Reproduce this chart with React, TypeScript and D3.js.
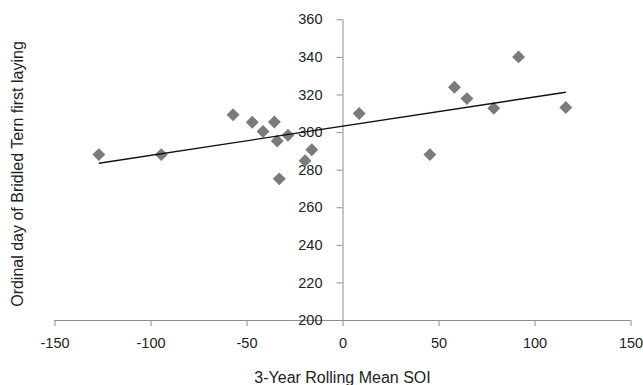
import React, { useEffect, useRef } from 'react';
import * as d3 from 'd3';

// 3-year rolling mean SOI vs first laying date
const soiValues = [-126.9, -94.4, -57.0, -47.0, -41.4, -35.5, -34.0, -28.4, -32.9, -19.5, -16.0, 8.7, 45.5, 58.3, 64.8, 78.8, 91.7, 116.3];
const layingDays = [288, 288, 309.2, 305.2, 300.3, 305.4, 295.3, 298.3, 275.1, 284.8, 290.6, 309.9, 288, 323.8, 317.8, 312.7, 340, 313.1];

const xTicks = [-150, -100, -50, 0, 50, 100, 150];
const yTicks = [200, 220, 240, 260, 280, 300, 320, 340, 360];

const App = () => {
  const svgRef = useRef<SVGSVGElement>(null);

  useEffect(() => {
    const svg = d3.select(svgRef.current);
    svg.selectAll('*').remove();

    const width = 643;
    const height = 385;
    const font = '"Liberation Sans", Arial, Helvetica, sans-serif';
    const axisColor = '#8c8c8c';

    const x = d3.scaleLinear().domain([-150, 150]).range([54.5, 630.5]);
    const y = d3.scaleLinear().domain([200, 360]).range([320, 19.3]);

    svg.attr('width', width).attr('height', height);

    // x axis along y = 200
    const xAxis = svg.append('g')
      .attr('transform', `translate(0,${y(200)})`)
      .call(d3.axisBottom(x).tickValues(xTicks).tickSize(6).tickPadding(12).tickFormat(d => String(d)));
    xAxis.select('.domain').attr('stroke', axisColor).attr('d', `M${x(-150)},0.5H${x(150)}`);
    xAxis.selectAll('.tick line').attr('stroke', axisColor);
    xAxis.selectAll('.tick text')
      .attr('fill', '#222')
      .style('font-family', font)
      .style('font-size', '14.5px');

    // y axis at x = 0
    const yAxis = svg.append('g')
      .attr('transform', `translate(${x(0)},0)`)
      .call(d3.axisLeft(y).tickValues(yTicks).tickSize(6).tickPadding(14).tickFormat(d => String(d)));
    yAxis.select('.domain').attr('stroke', axisColor).attr('d', `M0.5,${y(360)}V${y(200)}`);
    yAxis.selectAll('.tick line').attr('stroke', axisColor);
    yAxis.selectAll('.tick text')
      .attr('fill', '#222')
      .style('font-family', font)
      .style('font-size', '14.5px');

    // points
    const pts = soiValues.map((v, i) => ({ x: v, y: layingDays[i] }));
    svg.append('g')
      .selectAll('path')
      .data(pts)
      .join('path')
      .attr('d', d3.symbol(d3.symbolSquare, 84)())
      .attr('transform', d => `translate(${x(d.x)},${y(d.y)}) rotate(45)`)
      .attr('fill', '#7b7b7b');

    // linear trendline (least squares)
    const mx = d3.mean(pts, d => d.x) as number;
    const my = d3.mean(pts, d => d.y) as number;
    const sxy = d3.sum(pts, d => (d.x - mx) * (d.y - my));
    const sxx = d3.sum(pts, d => (d.x - mx) ** 2);
    const slope = sxy / sxx;
    const icpt = my - slope * mx;
    const [x0, x1] = d3.extent(soiValues) as [number, number];
    svg.append('path')
      .datum([x0, x1])
      .attr('d', d3.line<number>().x(d => x(d)).y(d => y(icpt + slope * d)))
      .attr('stroke', '#111')
      .attr('stroke-width', 1.4)
      .attr('fill', 'none');

    // axis titles
    svg.append('text')
      .attr('x', x(0))
      .attr('y', 383)
      .attr('text-anchor', 'middle')
      .attr('fill', '#222')
      .style('font-family', font)
      .style('font-size', '16px')
      .text('3-Year Rolling Mean SOI');

    svg.append('text')
      .attr('transform', `translate(23,174) rotate(-90)`)
      .attr('text-anchor', 'middle')
      .attr('fill', '#222')
      .style('font-family', font)
      .style('font-size', '16px')
      .text('Ordinal day of Bridled Tern first laying');
  }, []);

  return (
    <svg ref={svgRef} style={{ position: 'absolute', left: 0, top: 0 }}></svg>
  );
};

export default App;
